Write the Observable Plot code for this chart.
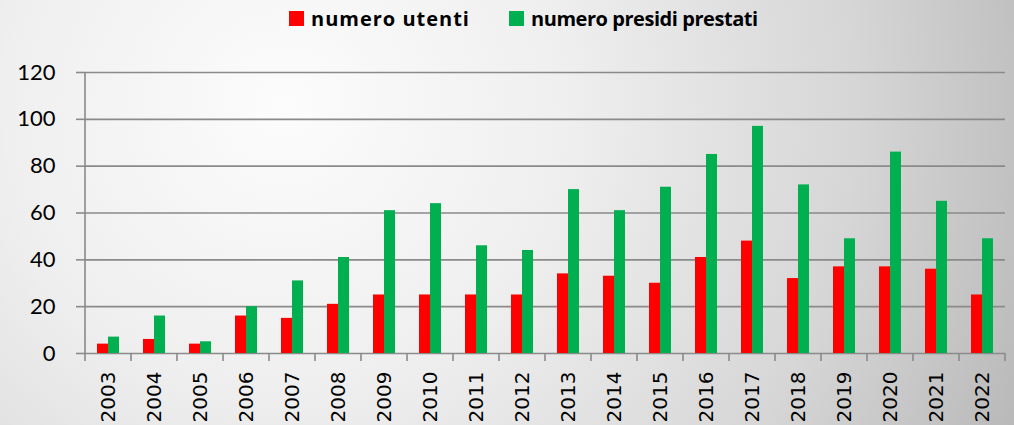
<!DOCTYPE html>
<html>
<head>
<meta charset="utf-8">
<script src="https://cdn.jsdelivr.net/npm/d3@7"></script>
<script src="https://cdn.jsdelivr.net/npm/@observablehq/plot@0.6"></script>
<style>
  html, body { margin: 0; padding: 0; }
  body {
    width: 1014px; height: 425px; overflow: hidden;
    background: radial-gradient(circle farthest-corner at 28% 25%, #fcfcfc 0%, #efefef 35%, #d6d6d6 72%, #b9b9b9 100%);
    font-family: "Open Sans", Lato, sans-serif;
  }
  #legend { height: 40px; position: relative; font-weight: bold; color: #000; }
  .item { position: absolute; top: 0; height: 37px; display: flex; align-items: center; }
  .sw { width: 15px; height: 15px; margin-right: 7px; flex: none; }
  .tx { white-space: nowrap; }
  #chart svg { display: block; }
</style>
</head>
<body>
<div id="legend"></div>
<div id="chart"></div>
<script>
const years = ["2003","2004","2005","2006","2007","2008","2009","2010","2011","2012","2013","2014","2015","2016","2017","2018","2019","2020","2021","2022"];
const utenti  = [4, 6, 4, 16, 15, 21, 25, 25, 25, 25, 34, 33, 30, 41, 48, 32, 37, 37, 36, 25];
const presidi = [7, 16, 5, 20, 31, 41, 61, 64, 46, 44, 70, 61, 71, 85, 97, 72, 49, 86, 65, 49];
const seriesNames = ["numero utenti", "numero presidi prestati"];
const seriesColors = ["#ff0000", "#00b050"];
const legendLeft = [289, 509];
const legendSpacing = [1, -0.45];
const yTicks = [0, 20, 40, 60, 80, 100, 120];

const data = years.flatMap((y, i) => [
  {year: y, series: seriesNames[0], value: utenti[i]},
  {year: y, series: seriesNames[1], value: presidi[i]}
]);

// legend
const legend = document.getElementById("legend");
seriesNames.forEach((name, i) => {
  const it = document.createElement("div");
  it.className = "item";
  it.style.left = legendLeft[i] + "px";
  const sw = document.createElement("span");
  sw.className = "sw";
  sw.style.background = seriesColors[i];
  const tx = document.createElement("span");
  tx.className = "tx";
  tx.textContent = name;
  tx.style.fontSize = "20px";
  tx.style.letterSpacing = legendSpacing[i] + "px";
  it.appendChild(sw); it.appendChild(tx);
  legend.appendChild(it);
});

const gridColor = "#8a8a8a";
const chart = Plot.plot({
  width: 1014,
  height: 385,
  marginLeft: 81,
  marginRight: 5,
  marginTop: 32,
  marginBottom: 72,
  style: {background: "transparent", overflow: "visible"},
  fx: {domain: years, padding: 0, label: null},
  x: {domain: seriesNames, paddingInner: 0, paddingOuter: 0.94, axis: null},
  y: {domain: [0, 120], label: null},
  color: {domain: seriesNames, range: seriesColors},
  marks: [
    Plot.gridY(yTicks, {stroke: gridColor, strokeOpacity: 1, strokeWidth: 1.6}),
    Plot.barY(data, {fx: "year", x: "series", y: "value", fill: "series"}),
    Plot.axisY(yTicks, {
      tickSize: 9, tickPadding: 21, stroke: gridColor, strokeWidth: 1.6,
      fill: "#000", fontSize: 22, fontFamily: "Lato, 'Open Sans', sans-serif", label: null
    }),
    Plot.axisFx({
      anchor: "bottom", tickSize: 0, tickPadding: 18, tickRotate: -90,
      fill: "#000", fontSize: 20, fontFamily: "'DejaVu Sans', sans-serif", label: null
    })
  ]
});
document.getElementById("chart").appendChild(chart);

// y-axis domain line and category boundary ticks, from the plot's own scales
const fx = chart.scale("fx");
const y = chart.scale("y");
const svg = d3.select(chart);
const g = svg.append("g").attr("stroke", gridColor).attr("stroke-width", 1.6);
const x0 = fx.apply(years[0]);
const y0 = y.apply(0);
g.append("line").attr("x1", x0).attr("x2", x0).attr("y1", y.apply(120)).attr("y2", y0);
const bounds = years.map(d => fx.apply(d)).concat([fx.apply(years[years.length - 1]) + fx.step]);
bounds.forEach(b => {
  g.append("line").attr("x1", b).attr("x2", b).attr("y1", y0).attr("y2", y0 + 8);
});
</script>
</body>
</html>
